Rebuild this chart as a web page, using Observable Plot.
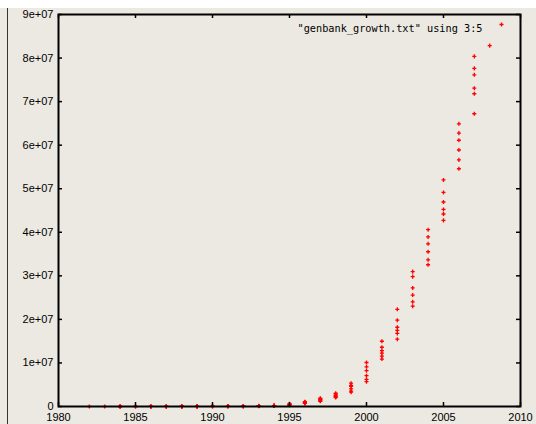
<!DOCTYPE html>
<html>
<head>
<meta charset="utf-8">
<script src="https://cdn.jsdelivr.net/npm/d3@7"></script>
<script src="https://cdn.jsdelivr.net/npm/@observablehq/plot@0.6"></script>
<style>
  html, body { margin: 0; padding: 0; background: #ECE9E2; }
  #top { height: 8px; background: #ffffff; width: 536px; }
  #wrap { width: 536px; height: 416px; overflow: hidden; }
  #chart { margin-left: 7px; border-left: 1px solid #333; width: 528px; height: 416px; }
  #chart svg { display: block; }
</style>
</head>
<body>
<div id="top"></div>
<div id="wrap"><div id="chart"></div></div>
<script>
// GenBank releases: number of sequences per release, grouped by release year
const years = [1982, 1983, 1984, 1985, 1986, 1987, 1988, 1989, 1990, 1991, 1992, 1993, 1994,
               1995, 1996, 1997, 1998, 1999, 2000, 2001, 2002, 2003, 2004, 2005, 2006, 2007, 2008];
const sequencesByYear = [
  [606],
  [2427],
  [3665, 4135, 4175, 4393],
  [4954, 5700],
  [6642, 7416, 8823, 9978],
  [10913, 12534, 14020, 14584],
  [15465, 17047, 18226, 19044, 20579, 21248],
  [22479, 26317, 28791, 31229],
  [33377, 35100, 39533, 41057],
  [43903, 46473, 51418, 55627],
  [58952, 65100, 71280, 78608],
  [83894, 92902, 97084, 106684, 111911, 143492],
  [150744, 162946, 169896, 182753, 196703, 215273],
  [268414, 352414, 425211, 492483, 555694, 620765],
  [699198, 759888, 843534, 920588, 1021211, 1114581],
  [1192505, 1274747, 1491069, 1610848, 1765847, 1891953],
  [2042325, 2209232, 2355928, 2532359, 2837897, 3043729],
  [3284000, 3525418, 4028171, 4610118, 4864570, 5354511],
  [5691170, 6215002, 7077491, 8214339, 9102634, 10106023],
  [10896781, 11545572, 12243766, 12813516, 13602262, 14976310],
  [15465325, 16769983, 17471130, 18197119, 19808101, 22318883],
  [23035823, 24027936, 25592865, 27213748, 29819397, 30968418],
  [32549400, 33676218, 35532003, 37343937, 38941263, 40604319],
  [42734478, 44202133, 45236251, 46947388, 49152445, 52016762],
  [54584635, 56620500, 58890345, 61132599, 62765195, 64893747],
  [67218344, 71802595, 73078143, 76146236, 77632813, 80388382],
  [82853685]
];
const xTicks = [1980, 1985, 1990, 1995, 2000, 2005, 2010];
const yTicks = [0, 1e7, 2e7, 3e7, 4e7, 5e7, 6e7, 7e7, 8e7, 9e7];
const legendLabel = "\"genbank_growth.txt\" using 3:5";

const data = years.flatMap((yr, i) => sequencesByYear[i].map(v => ({year: yr, seqs: v})));

const W = 528, H = 416, mL = 50, mR = 16, mT = 6, mB = 18;
const innerW = W - mL - mR, innerH = H - mT - mB;
const tick = 4;
const fmtY = d => d === 0 ? "0" : (d / 1e7) + "e+07";

const chart = Plot.plot({
  width: W, height: H,
  marginLeft: mL, marginRight: mR, marginTop: mT, marginBottom: mB,
  style: {background: "#ECE9E2", fontFamily: "'Liberation Sans', Arial, sans-serif", fontSize: "11px", color: "#000", overflow: "visible"},
  x: {domain: [1980, 2010]},
  y: {domain: [0, 9e7]},
  marks: [
    Plot.dot(data, {x: "year", y: "seqs", symbol: "plus", r: 1.4, stroke: "#ff0000", strokeWidth: 1.3}),
    // inward ticks on all four sides
    Plot.tickX(xTicks, {x: d => d, insetTop: innerH - tick, stroke: "#000", strokeWidth: 1.5}),
    Plot.tickX(xTicks, {x: d => d, insetBottom: innerH - tick, stroke: "#000", strokeWidth: 1.5}),
    Plot.tickY(yTicks, {y: d => d, insetRight: innerW - tick, stroke: "#000", strokeWidth: 1.5}),
    Plot.tickY(yTicks, {y: d => d, insetLeft: innerW - tick, stroke: "#000", strokeWidth: 1.5}),
    Plot.frame({stroke: "#000", strokeWidth: 2}),
    Plot.axisX({ticks: xTicks, tickSize: 0, tickPadding: 7, tickFormat: d => String(d), label: null}),
    Plot.axisY({ticks: yTicks, tickSize: 0, tickPadding: 5, tickFormat: fmtY, label: null}),
    Plot.text([legendLabel], {text: d => d, frameAnchor: "top-right", dx: -38, dy: 10, textAnchor: "end",
      fontFamily: "'DejaVu Sans Mono', monospace", fontSize: 10.5, fill: "#000"}),
    Plot.dot([legendLabel], {frameAnchor: "top-right", dx: -19, dy: 10, symbol: "plus", r: 1.4, stroke: "#ff0000", strokeWidth: 1.3})
  ]
});
document.getElementById("chart").appendChild(chart);
d3.select(chart).selectAll("text").filter(function() { return this.textContent === legendLabel; })
  .attr("textLength", 185).attr("lengthAdjust", "spacingAndGlyphs");
</script>
</body>
</html>
